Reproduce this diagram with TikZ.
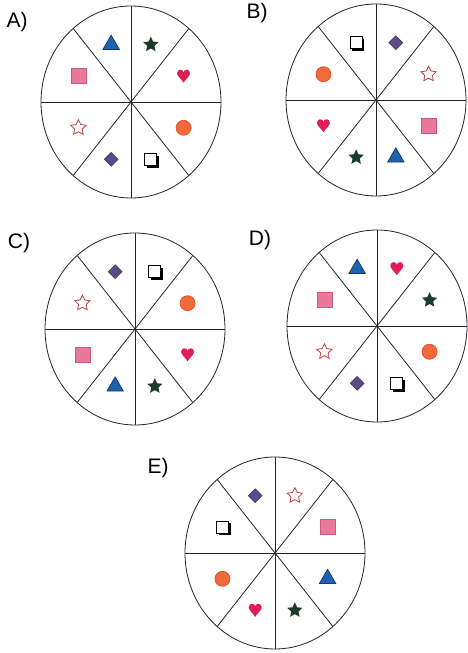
\documentclass[tikz,border=0pt]{standalone}
\usepackage{fontspec}
\setmainfont{Liberation Sans}
\usetikzlibrary{shapes.geometric, shadows, calc}

\definecolor{triblue}{HTML}{1D62AE}
\definecolor{stargreen}{HTML}{1C3A2A}
\definecolor{heartred}{HTML}{E01E55}
\definecolor{sqpink}{HTML}{E9799A}
\definecolor{sqedge}{HTML}{D2577C}
\definecolor{ostarred}{HTML}{B8453E}
\definecolor{diampurple}{HTML}{5C4B86}
\definecolor{dotorange}{HTML}{F2693A}
\definecolor{dotedge}{HTML}{D9512C}
\definecolor{rimgrey}{HTML}{222428}

\begin{document}
\begin{tikzpicture}[
        x=1pt, y=1pt,
        rim/.style={draw=rimgrey, line width=0.8pt},
        letter/.style={font=\fontsize{21}{24}\selectfont, inner sep=0pt},
        symtri/.style={regular polygon, regular polygon sides=3, minimum size=19pt, inner sep=0pt, fill=triblue, draw=triblue!60!black, line width=0.7pt},
        symstar/.style={star, star points=5, star point ratio=2.1, minimum size=16pt, inner sep=0pt, fill=stargreen},
        symostar/.style={star, star points=5, star point ratio=2.0, minimum size=16pt, inner sep=0pt, fill=white, draw=ostarred, line width=0.8pt},
        symsq/.style={rectangle, minimum size=15pt, inner sep=0pt, fill=sqpink, draw=sqedge, line width=0.7pt},
        symdiam/.style={diamond, minimum size=14pt, inner sep=0pt, fill=diampurple, draw=diampurple!70!black, line width=0.6pt},
        symdot/.style={circle, minimum size=15pt, inner sep=0pt, fill=dotorange, draw=dotedge, line width=0.7pt},
        symbox/.style={rectangle, minimum size=12pt, inner sep=0pt, fill=white, draw=black, line width=1pt, drop shadow={shadow xshift=2.2pt, shadow yshift=-2.2pt, fill=black, opacity=1}},
        symheart/.style={rectangle, minimum size=17pt, inner sep=0pt, path picture={\fill[heartred, shift={(path picture bounding box.center)}, scale=1.18] (0,-6.5) .. controls (-2,-3) and (-6.5,0) .. (-6.5,3) .. controls (-6.5,5.5) and (-4.5,6.5) .. (-3.3,6.5) .. controls (-1.6,6.5) and (0,5.5) .. (0,3.8) .. controls (0,5.5) and (1.6,6.5) .. (3.3,6.5) .. controls (4.5,6.5) and (6.5,5.5) .. (6.5,3) .. controls (6.5,0) and (2,-3) .. (0,-6.5) -- cycle;}}
    ]

    \useasboundingbox (0,0) rectangle (467,653);

    % Wheel A
    \coordinate (A) at (131,551);
    \node[letter] (A-label) at (17,631) {A)};
    \draw[rim] (A) ellipse [x radius=90, y radius=96];
    \foreach \a in {0,50,90,130,180,230,270,310}
        \draw[rim] (A) -- ++(\a:90 and 96);
    \foreach \s/\a [count=\i] in {symheart/25, symstar/70, symtri/110, symsq/155, symostar/205, symdiam/250, symbox/290, symdot/335}
        \node[\s] (A-\i) at ($(A)+(\a:58 and 61)$) {};

    % Wheel B
    \coordinate (B) at (376,553);
    \node[letter] (B-label) at (257,640) {B)};
    \draw[rim] (B) ellipse [x radius=90, y radius=96];
    \foreach \a in {0,50,90,130,180,230,270,310}
        \draw[rim] (B) -- ++(\a:90 and 96);
    \foreach \s/\a [count=\i] in {symostar/25, symdiam/70, symbox/110, symdot/155, symheart/205, symstar/250, symtri/290, symsq/335}
        \node[\s] (B-\i) at ($(B)+(\a:58 and 61)$) {};

    % Wheel C
    \coordinate (C) at (135,324);
    \node[letter] (C-label) at (19,410) {C)};
    \draw[rim] (C) ellipse [x radius=90, y radius=96];
    \foreach \a in {0,50,90,130,180,230,270,310}
        \draw[rim] (C) -- ++(\a:90 and 96);
    \foreach \s/\a [count=\i] in {symdot/25, symbox/70, symdiam/110, symostar/155, symsq/205, symtri/250, symstar/290, symheart/335}
        \node[\s] (C-\i) at ($(C)+(\a:58 and 61)$) {};

    % Wheel D
    \coordinate (D) at (377,327);
    \node[letter] (D-label) at (260,413) {D)};
    \draw[rim] (D) ellipse [x radius=90, y radius=96];
    \foreach \a in {0,50,90,130,180,230,270,310}
        \draw[rim] (D) -- ++(\a:90 and 96);
    \foreach \s/\a [count=\i] in {symstar/25, symheart/70, symtri/110, symsq/155, symostar/205, symdiam/250, symbox/290, symdot/335}
        \node[\s] (D-\i) at ($(D)+(\a:58 and 61)$) {};

    % Wheel E
    \coordinate (E) at (275,100);
    \node[letter] (E-label) at (158,185) {E)};
    \draw[rim] (E) ellipse [x radius=90, y radius=96];
    \foreach \a in {0,50,90,130,180,230,270,310}
        \draw[rim] (E) -- ++(\a:90 and 96);
    \foreach \s/\a [count=\i] in {symsq/25, symostar/70, symdiam/110, symbox/155, symdot/205, symheart/250, symstar/290, symtri/335}
        \node[\s] (E-\i) at ($(E)+(\a:58 and 61)$) {};

\end{tikzpicture}
\end{document}
